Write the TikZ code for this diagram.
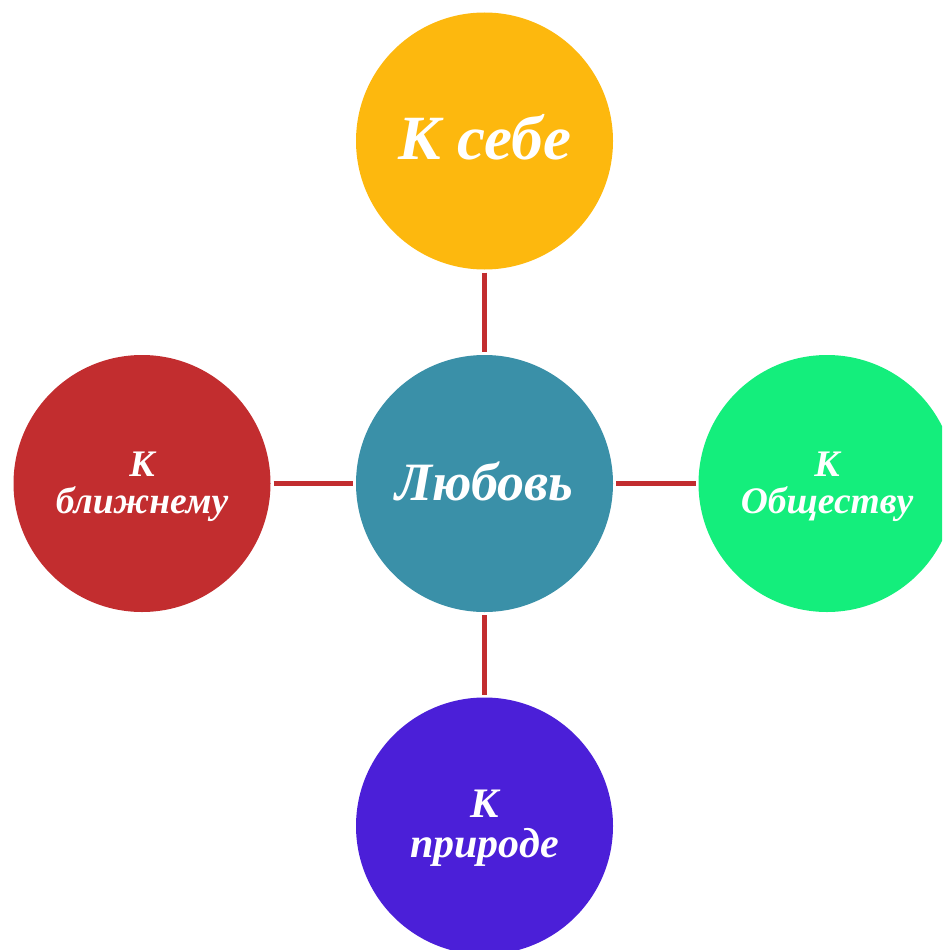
\documentclass[tikz,border=0pt]{standalone}
\usepackage{fontspec}
\setmainfont{Liberation Serif}
\definecolor{cTop}{RGB}{253,184,14}
\definecolor{cMid}{RGB}{58,144,168}
\definecolor{cLeft}{RGB}{194,45,47}
\definecolor{cRight}{RGB}{20,238,124}
\definecolor{cBot}{RGB}{75,31,216}
\definecolor{cLine}{RGB}{194,45,47}
\tikzset{
  ball/.style={circle, minimum size=257pt, inner sep=0pt, outer sep=0pt, draw=none},
  conn/.style={draw=cLine, line width=5pt, shorten >=3pt, shorten <=3pt},
  lbl/.style={text=white, anchor=base, inner sep=0pt},
}
\begin{document}
\begin{tikzpicture}[x=1pt,y=-1pt]
\useasboundingbox (0,0) rectangle (942,950);
\clip (0,0) rectangle (942,950);
\node[ball, fill=cMid] (mid) at (484.5,483.5) {};
\node[ball, fill=cTop] (top) at (484.5,141) {};
\node[ball, fill=cBot] (bot) at (484.5,826) {};
\node[ball, fill=cLeft] (left) at (142,483.5) {};
\node[ball, fill=cRight] (right) at (827,483.5) {};
\draw[conn] (top) -- (mid);
\draw[conn] (mid) -- (bot);
\draw[conn] (left) -- (mid);
\draw[conn] (mid) -- (right);
\node[lbl, font=\fontsize{63}{63}\selectfont\bfseries\itshape] (ttop) at (485,159) {К себе};
\node[lbl, font=\fontsize{54}{54}\selectfont\bfseries\itshape] (tmid) at (484.5,500) {Любовь};
\node[lbl, font=\fontsize{37.5}{37.5}\selectfont\bfseries\itshape] (tl1) at (142,476) {К};
\node[lbl, font=\fontsize{37.5}{37.5}\selectfont\bfseries\itshape] (tl2) at (142,513) {ближнему};
\node[lbl, font=\fontsize{37.5}{37.5}\selectfont\bfseries\itshape] (tr1) at (827,476) {К};
\node[lbl, font=\fontsize{37.5}{37.5}\selectfont\bfseries\itshape] (tr2) at (827,513) {Обществу};
\node[lbl, font=\fontsize{42}{42}\selectfont\bfseries\itshape] (tb1) at (484.5,817) {К};
\node[lbl, font=\fontsize{42}{42}\selectfont\bfseries\itshape] (tb2) at (484.5,857) {природе};
\end{tikzpicture}
\end{document}
